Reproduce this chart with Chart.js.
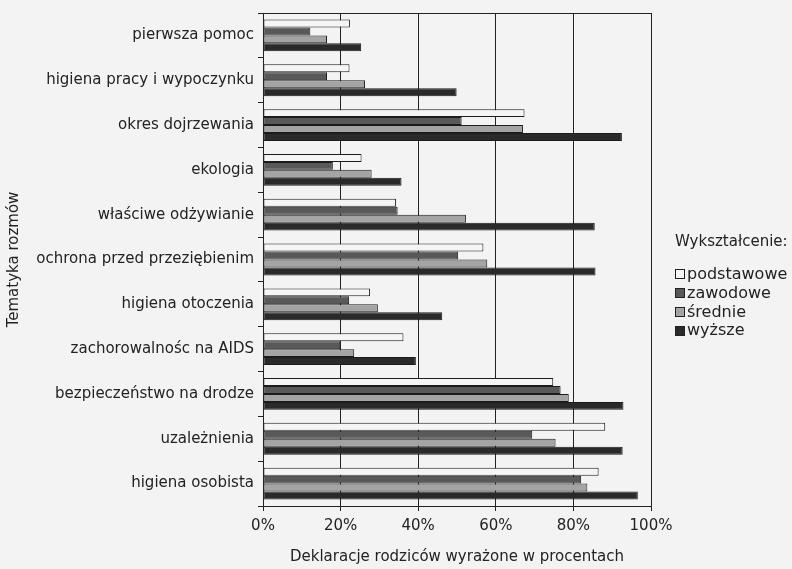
<!DOCTYPE html>
<html lang="pl">
<head>
<meta charset="utf-8">
<title>Tematyka rozmów</title>
<script src="https://cdn.jsdelivr.net/npm/chart.js@4/dist/chart.umd.min.js"></script>
<style>
  html, body { margin: 0; padding: 0; background: #f3f3f3; }
  #wrap { position: relative; width: 792px; height: 569px; }
  #chart { position: absolute; left: 0; top: 0; }
  #legend {
    position: absolute; left: 675px; top: 231px;
    font-family: "DejaVu Sans", sans-serif; color: #222;
  }
  #legend .title { font-size: 15px; line-height: 20px; margin-bottom: 14px; }
  #legend .item { font-size: 16px; line-height: 18.8px; display: flex; align-items: center; white-space: nowrap; }
  #legend .box { width: 8px; height: 8px; border: 1px solid #222; margin-right: 2px; flex: none; }
</style>
</head>
<body>
<div id="wrap">
  <canvas id="chart" width="792" height="569"></canvas>
  <div id="legend"></div>
</div>
<script>
// Topics of conversations, listed top to bottom
const topics = [
  "pierwsza pomoc",
  "higiena pracy i wypoczynku",
  "okres dojrzewania",
  "ekologia",
  "właściwe odżywianie",
  "ochrona przed przeziębienim",
  "higiena otoczenia",
  "zachorowalnośc na AIDS",
  "bezpieczeństwo na drodze",
  "uzależnienia",
  "higiena osobista"
];

// Parents' declarations (%) by education level
const podstawowe = [22.4, 22.3, 67.4, 25.4, 34.3, 56.8, 27.6, 36.2, 74.8, 88.2, 86.5];
const zawodowe   = [12.2, 16.5, 51.2, 18.0, 34.7, 50.3, 22.2, 19.9, 76.7, 69.4, 82.0];
const srednie    = [16.5, 26.3, 67.0, 28.0, 52.3, 57.8, 29.6, 23.5, 78.8, 75.4, 83.6];
const wyzsze     = [25.3, 49.9, 92.5, 35.7, 85.5, 85.7, 46.2, 39.4, 92.9, 92.7, 96.6];

const seriesNames = ["podstawowe", "zawodowe", "średnie", "wyższe"];
const seriesData = [podstawowe, zawodowe, srednie, wyzsze];
const seriesColors = ["#f5f5f5", "#595959", "#a4a4a4", "#2a2a2a"];

const xTicks = [0, 20, 40, 60, 80, 100];

const FONT = "'DejaVu Sans', sans-serif";
const INK = "#222";

// frame around the plotting area
const frame = {
  id: "frame",
  afterDatasetsDraw(chart) {
    const a = chart.chartArea, ctx = chart.ctx;
    ctx.save();
    ctx.strokeStyle = INK;
    ctx.lineWidth = 1;
    ctx.strokeRect(Math.round(a.left) + 0.5, Math.round(a.top) + 0.5,
                   Math.round(a.right - a.left), Math.round(a.bottom - a.top));
    ctx.restore();
  }
};

const chart = new Chart(document.getElementById("chart"), {
  type: "bar",
  data: {
    labels: topics,
    datasets: seriesNames.map((name, i) => ({
      label: name,
      data: seriesData[i],
      backgroundColor: seriesColors[i],
      borderColor: "#1c1c1c",
      borderWidth: 1,
      borderSkipped: false,
      categoryPercentage: 0.71,
      barPercentage: 1.0
    }))
  },
  options: {
    indexAxis: "y",
    responsive: false,
    animation: false,
    layout: { padding: { left: 3, top: 13, right: 141, bottom: 2 } },
    plugins: {
      legend: { display: false },
      tooltip: { enabled: false }
    },
    scales: {
      x: {
        type: "linear",
        min: 0,
        max: 100,
        afterBuildTicks(scale) { scale.ticks = xTicks.map(v => ({ value: v })); },
        afterFit(scale) { scale.height = 569 - 506 - 2; },
        ticks: {
          callback: v => v + "%",
          color: INK,
          font: { family: FONT, size: 15 },
          padding: 6,
          maxRotation: 0
        },
        grid: { color: INK, lineWidth: 1, tickLength: 5, drawTicks: true },
        border: { color: INK, width: 1 },
        title: {
          display: true,
          text: "Deklaracje rodziców wyrażone w procentach",
          color: INK,
          font: { family: FONT, size: 15 },
          padding: { top: 4, bottom: 1 }
        }
      },
      y: {
        afterFit(scale) { scale.width = 263 - 3; },
        ticks: {
          color: INK,
          font: { family: FONT, size: 15 },
          padding: 4
        },
        grid: { drawOnChartArea: false, color: INK, tickLength: 5, offset: true },
        border: { color: INK, width: 1 },
        title: {
          display: true,
          text: "Tematyka rozmów",
          color: INK,
          font: { family: FONT, size: 15 },
          padding: { top: 2, bottom: 0 }
        }
      }
    }
  },
  plugins: [frame]
});

// legend built from the datasets
const legend = document.getElementById("legend");
const title = document.createElement("div");
title.className = "title";
title.textContent = "Wykształcenie:";
legend.appendChild(title);
chart.data.datasets.forEach(ds => {
  const row = document.createElement("div");
  row.className = "item";
  const box = document.createElement("span");
  box.className = "box";
  box.style.background = ds.backgroundColor;
  const txt = document.createElement("span");
  txt.textContent = ds.label;
  row.appendChild(box);
  row.appendChild(txt);
  legend.appendChild(row);
});
</script>
</body>
</html>
